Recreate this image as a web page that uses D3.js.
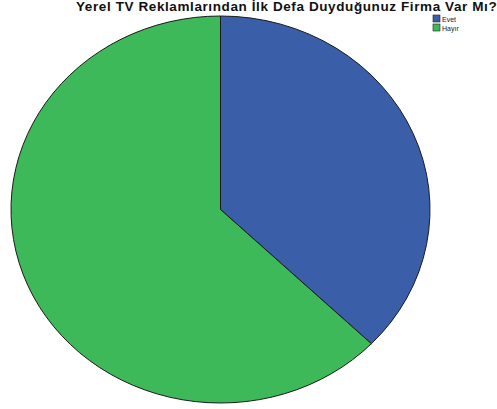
<!DOCTYPE html>
<html>
<head>
<meta charset="utf-8">
<script src="https://cdn.jsdelivr.net/npm/d3@7"></script>
<style>
  html, body { margin: 0; padding: 0; background: #fff; }
  svg { display: block; }
</style>
</head>
<body>
<svg id="chart" width="497" height="409"></svg>
<script>
// Survey answers (percent of respondents)
const categories = ["Evet", "Hayır"];
const values = [37.2, 62.8];
const colors = ["#3b5ea9", "#3db95a"];
const title = "Yerel TV Reklamlarından İlk Defa Duyduğunuz Firma Var Mı?";

const svg = d3.select("#chart");

// Elliptical pie: drawn as a circle then squashed vertically
const cx = 220.5, cy = 209.5, rx = 209.5, ry = 193.5;

const pie = d3.pie().sort(null).value(d => d.value);
const arc = d3.arc().innerRadius(0).outerRadius(rx);
const data = categories.map((c, i) => ({ name: c, value: values[i], color: colors[i] }));

const g = svg.append("g")
  .attr("transform", `translate(${cx},${cy}) scale(1,${ry / rx})`);

g.selectAll("path")
  .data(pie(data))
  .join("path")
  .attr("d", arc)
  .attr("fill", d => d.data.color)
  .attr("stroke", "#1a1a1a")
  .attr("stroke-width", 1)
  .attr("vector-effect", "non-scaling-stroke");

// Title
svg.append("text")
  .attr("x", 76)
  .attr("y", 11)
  .attr("font-family", "Liberation Sans, Arial, sans-serif")
  .attr("font-weight", "bold")
  .attr("font-size", 13.5)
  .attr("letter-spacing", 0.6)
  .attr("fill", "#111")
  .text(title);

// Legend
const legend = svg.append("g").attr("transform", "translate(433,15)");
const item = legend.selectAll("g")
  .data(data)
  .join("g")
  .attr("transform", (d, i) => `translate(0,${i * 9})`);
item.append("rect")
  .attr("width", 7).attr("height", 7)
  .attr("fill", d => d.color)
  .attr("stroke", "#222").attr("stroke-width", 0.6);
item.append("text")
  .attr("x", 9).attr("y", 6.5)
  .attr("font-family", "Liberation Sans, Arial, sans-serif")
  .attr("font-size", 7)
  .attr("fill", "#222")
  .text(d => d.name);
</script>
</body>
</html>
